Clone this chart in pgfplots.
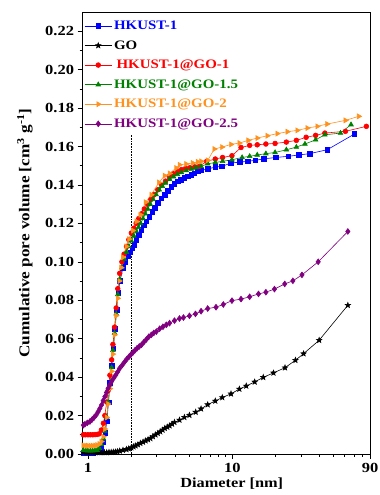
\documentclass[border=0pt]{standalone}
\usepackage{fontspec}
\setmainfont{Liberation Serif}
\usepackage{graphicx}
\usepackage{pgfplots}
\pgfplotsset{compat=1.18}
\usetikzlibrary{plotmarks}
\definecolor{cblue}{RGB}{0,0,255}
\definecolor{cred}{RGB}{255,0,0}
\definecolor{cgreen}{RGB}{0,128,0}
\definecolor{corange}{RGB}{255,145,30}
\definecolor{cpurple}{RGB}{128,0,128}
\newcommand{\sx}[1]{\scalebox{1.18}[1]{#1}}
\newcommand{\lx}[1]{\scalebox{1.15}[1]{#1}}
\pgfdeclareplotmark{fstar}{%
  \pgfpathmoveto{\pgfpointpolar{90}{\pgfplotmarksize}}%
  \pgfpathlineto{\pgfpointpolar{126}{0.42\pgfplotmarksize}}%
  \pgfpathlineto{\pgfpointpolar{162}{\pgfplotmarksize}}%
  \pgfpathlineto{\pgfpointpolar{198}{0.42\pgfplotmarksize}}%
  \pgfpathlineto{\pgfpointpolar{234}{\pgfplotmarksize}}%
  \pgfpathlineto{\pgfpointpolar{270}{0.42\pgfplotmarksize}}%
  \pgfpathlineto{\pgfpointpolar{306}{\pgfplotmarksize}}%
  \pgfpathlineto{\pgfpointpolar{342}{0.42\pgfplotmarksize}}%
  \pgfpathlineto{\pgfpointpolar{18}{\pgfplotmarksize}}%
  \pgfpathlineto{\pgfpointpolar{54}{0.42\pgfplotmarksize}}%
  \pgfpathclose
  \pgfusepathqfillstroke
}
\begin{document}
\begin{tikzpicture}
\useasboundingbox (-82bp,-41bp) rectangle (298bp,454bp);
\begin{axis}[
  scale only axis,
  width=288bp, height=442bp,
  xmode=log,
  xmin=0.91, xmax=90,
  ymin=0, ymax=0.23,
  xtick={1,10,90},
  xticklabels={\sx{1},\sx{10},\sx{90}},
  minor xtick={2,3,4,5,6,7,8,9,20,30,40,50,60,70,80},
  ytick={0,0.02,0.04,0.06,0.08,0.10,0.12,0.14,0.16,0.18,0.20,0.22},
  minor ytick={0.01,0.03,0.05,0.07,0.09,0.11,0.13,0.15,0.17,0.19,0.21},
  yticklabel={\sx{\pgfmathprintnumber[fixed,fixed zerofill,precision=2]{\tick}}},
  /pgf/number format/assume math mode=true,
  tick label style={font=\bfseries\fontsize{14}{14}\selectfont},
  xticklabel style={yshift=-1.5bp},
  tick align=outside,
  xtick pos=bottom, ytick pos=left,
  major tick length=4.5bp, minor tick length=2.5bp,
  axis line style={line width=0.8pt},
  every tick/.style={black, line width=0.6pt},
  xlabel={\scalebox{1.17}[1]{Diameter [nm]}},
  ylabel={\scalebox{1.15}[1]{Cumulative pore volume [cm\textsuperscript{3} g\textsuperscript{-1}]}},
  xlabel style={font=\bfseries\fontsize{14}{14}\selectfont, at={(axis description cs:0.52,-0.068)}, anchor=center},
  ylabel style={font=\bfseries\fontsize{15}{15}\selectfont, at={(axis description cs:-0.198,0.5)}, anchor=center},
  legend style={draw=none, fill=none, at={(axis description cs:0.004,0.987)}, anchor=north west,
    font=\bfseries\fontsize{13}{13}\selectfont, row sep=5.5pt, inner sep=1pt},
  legend cell align=left,
  legend image code/.code={\draw[mark repeat=2,mark phase=2] plot coordinates {(0cm,0cm) (0.48cm,0cm) (0.96cm,0cm)};},
  every axis plot/.append style={line width=0.6pt},
]
% HKUST-1
\addplot[color=cblue, mark=square*, mark size=2.3pt] coordinates {
(0.93,0.0005)(0.97,0.0005)(1.0,0.0005)(1.04,0.0006)(1.08,0.0007)(1.12,0.0008)(1.16,0.001)(1.2,0.0015)(1.24,0.003)(1.28,0.006)(1.32,0.011)(1.35,0.017)(1.39,0.027)(1.42,0.037)(1.46,0.046)(1.50,0.055)(1.54,0.065)(1.58,0.075)(1.62,0.084)(1.67,0.090)(1.75,0.097)(1.82,0.100)(1.90,0.103)(1.96,0.105)(2.03,0.107)(2.10,0.109)(2.17,0.1115)(2.26,0.114)(2.35,0.1167)(2.44,0.119)(2.54,0.121)(2.66,0.1235)(2.79,0.126)(2.92,0.128)(3.05,0.1306)(3.22,0.133)(3.40,0.135)(3.58,0.137)(3.78,0.139)(3.98,0.1405)(4.20,0.1418)(4.42,0.1428)(4.66,0.1436)(4.92,0.1445)(5.19,0.1453)(5.46,0.146)(5.76,0.147)(6.08,0.1476)(6.76,0.1483)(7.63,0.1493)(8.49,0.1497)(9.80,0.1514)(11.3,0.1519)(12.8,0.1523)(14.4,0.1528)(16.6,0.1536)(20.0,0.1543)(24.4,0.1549)(29.0,0.1556)(34.4,0.1563)(45.4,0.1583)(70.2,0.1665)
};
% GO
\addplot[color=black, mark=fstar, mark size=2.8pt] coordinates {
(0.93,0.0008)(0.97,0.0008)(1.0,0.0008)(1.04,0.0008)(1.08,0.0008)(1.12,0.0008)(1.16,0.0008)(1.20,0.0008)(1.25,0.0008)(1.30,0.0008)(1.35,0.0008)(1.40,0.0009)(1.45,0.0009)(1.50,0.0010)(1.55,0.0011)(1.60,0.0013)(1.66,0.0016)(1.75,0.0020)(1.85,0.0024)(1.92,0.0028)(2.00,0.0033)(2.07,0.0038)(2.14,0.0043)(2.22,0.0049)(2.31,0.0056)(2.41,0.0062)(2.51,0.0069)(2.61,0.0075)(2.71,0.0081)(2.82,0.0091)(2.94,0.0100)(3.05,0.0108)(3.17,0.0116)(3.29,0.0125)(3.41,0.0134)(3.55,0.0140)(3.68,0.0147)(3.83,0.0156)(3.98,0.0165)(4.31,0.0177)(4.66,0.0191)(5.05,0.0202)(5.58,0.0218)(6.08,0.0235)(6.76,0.0257)(7.63,0.0276)(8.53,0.0294)(9.80,0.0313)(11.2,0.0338)(12.5,0.0354)(14.3,0.0375)(16.4,0.0399)(19.3,0.0422)(23.2,0.0449)(27.4,0.0488)(31.2,0.0522)(40.0,0.0592)(63.2,0.0774)
};
% HKUST-1@GO-1
\addplot[color=cred, mark=*, mark size=2.4pt] coordinates {
(0.93,0.0100)(0.96,0.0100)(1.0,0.0100)(1.04,0.0100)(1.08,0.0100)(1.12,0.0101)(1.16,0.0102)(1.20,0.0105)(1.24,0.0125)(1.28,0.016)(1.31,0.020)(1.35,0.027)(1.38,0.033)(1.42,0.041)(1.46,0.049)(1.49,0.057)(1.53,0.066)(1.57,0.076)(1.61,0.086)(1.66,0.094)(1.72,0.100)(1.78,0.104)(1.85,0.108)(1.92,0.1115)(2.00,0.115)(2.08,0.1175)(2.16,0.120)(2.25,0.1225)(2.35,0.125)(2.46,0.1275)(2.59,0.130)(2.73,0.1325)(2.88,0.135)(3.05,0.1375)(3.24,0.140)(3.45,0.142)(3.67,0.1443)(3.92,0.1458)(4.18,0.147)(4.45,0.148)(4.76,0.1487)(5.10,0.149)(5.50,0.1494)(5.92,0.1497)(6.65,0.1523)(7.63,0.1535)(8.57,0.1543)(9.95,0.1552)(11.5,0.1595)(13.2,0.1606)(14.9,0.1609)(17.1,0.1613)(19.8,0.1616)(23.7,0.1623)(27.8,0.1632)(32.5,0.1648)(37.8,0.1658)(43.8,0.1670)(60.8,0.1679)(84.9,0.1705)
};
% HKUST-1@GO-1.5
\addplot[color=cgreen, mark=triangle*, mark size=2.7pt] coordinates {
(0.93,0.0020)(0.97,0.0018)(1.0,0.0017)(1.04,0.0017)(1.08,0.0017)(1.12,0.0018)(1.16,0.002)(1.20,0.003)(1.24,0.005)(1.28,0.008)(1.31,0.012)(1.35,0.019)(1.38,0.027)(1.42,0.036)(1.46,0.045)(1.49,0.054)(1.53,0.063)(1.57,0.073)(1.61,0.083)(1.66,0.091)(1.72,0.097)(1.78,0.1015)(1.85,0.105)(1.92,0.108)(2.00,0.111)(2.08,0.1135)(2.16,0.116)(2.24,0.118)(2.32,0.120)(2.41,0.1225)(2.50,0.125)(2.60,0.1275)(2.70,0.130)(2.83,0.1325)(2.97,0.135)(3.12,0.1375)(3.28,0.1393)(3.45,0.1410)(3.68,0.1430)(3.92,0.1443)(4.17,0.1455)(4.45,0.1465)(4.80,0.1475)(5.21,0.1483)(5.60,0.1490)(6.08,0.1497)(6.76,0.151)(7.63,0.1517)(8.57,0.1523)(9.95,0.1531)(11.7,0.1543)(13.2,0.1549)(14.9,0.1556)(17.1,0.1563)(19.8,0.1569)(23.7,0.1583)(27.8,0.1597)(31.9,0.1613)(37.8,0.1635)(43.8,0.1661)(56.2,0.167)(66.5,0.1714)
};
% HKUST-1@GO-2
\addplot[color=corange, mark=triangle*, mark size=2.9pt, mark options={rotate=-90}] coordinates {
(0.93,0.0045)(0.97,0.0043)(1.0,0.0043)(1.04,0.0043)(1.08,0.0043)(1.12,0.0044)(1.16,0.0046)(1.20,0.0052)(1.24,0.0065)(1.28,0.009)(1.31,0.013)(1.35,0.019)(1.38,0.026)(1.42,0.034)(1.46,0.043)(1.49,0.052)(1.53,0.062)(1.57,0.072)(1.61,0.081)(1.65,0.090)(1.70,0.097)(1.75,0.1024)(1.85,0.108)(1.93,0.1118)(2.05,0.1163)(2.17,0.121)(2.31,0.1245)(2.51,0.131)(2.75,0.1349)(3.10,0.1413)(3.40,0.1448)(3.68,0.146)(4.09,0.1488)(4.31,0.1505)(4.79,0.1509)(5.32,0.1514)(5.76,0.152)(6.08,0.1523)(6.76,0.1528)(7.51,0.1587)(8.49,0.1597)(9.80,0.1611)(11.2,0.1618)(12.9,0.1632)(14.9,0.1644)(17.5,0.1656)(20.5,0.1667)(24.1,0.1677)(28.2,0.1684)(33.1,0.1696)(38.8,0.1705)(45.4,0.1717)(60.8,0.1736)(75.2,0.1757)
};
% HKUST-1@GO-2.5
\addplot[color=cpurple, mark=diamond*, mark size=2.9pt] coordinates {
(0.93,0.0150)(0.953,0.0155)(0.99,0.0162)(1.032,0.0169)(1.065,0.0178)(1.10,0.0189)(1.14,0.0203)(1.178,0.0220)(1.21,0.0237)(1.243,0.0255)(1.275,0.0277)(1.31,0.0298)(1.345,0.0320)(1.38,0.0342)(1.42,0.0360)(1.457,0.0377)(1.51,0.0395)(1.56,0.0411)(1.61,0.0428)(1.66,0.0446)(1.73,0.0463)(1.80,0.0480)(1.86,0.0494)(1.93,0.0507)(1.99,0.0518)(2.05,0.0528)(2.12,0.0540)(2.19,0.0550)(2.27,0.0560)(2.35,0.0568)(2.44,0.0582)(2.54,0.0596)(2.64,0.0610)(2.75,0.0620)(2.86,0.0630)(2.98,0.0637)(3.14,0.0652)(3.31,0.0662)(3.49,0.0672)(3.68,0.0681)(3.98,0.0694)(4.31,0.0705)(4.59,0.0710)(5.05,0.0719)(5.56,0.0729)(6.08,0.0743)(6.76,0.0757)(7.72,0.0764)(8.67,0.0778)(9.95,0.0798)(11.5,0.0806)(13.2,0.0818)(15.2,0.0833)(17.1,0.0842)(19.6,0.0858)(23.1,0.0885)(26.3,0.0901)(30.4,0.0932)(39.4,0.1000)(63.2,0.1158)
};
\addplot[black, densely dotted, line width=0.6pt, forget plot] coordinates {(2,0) (2,0.166)};
\legend{\lx{\textcolor{cblue}{HKUST-1}},\lx{\textcolor{black}{GO}},\lx{\textcolor{cred}{\,HKUST-1@GO-1}},\lx{\textcolor{cgreen}{HKUST-1@GO-1.5}},\lx{\textcolor{corange}{HKUST-1@GO-2}},\lx{\textcolor{cpurple}{HKUST-1@GO-2.5}}}
\end{axis}
\end{tikzpicture}
\end{document}
